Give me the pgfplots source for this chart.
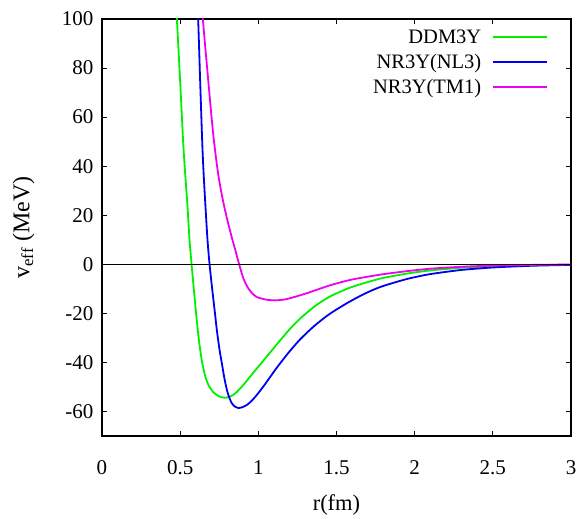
\documentclass[border=0pt]{standalone}
\usepackage{pgfplots}
\pgfplotsset{compat=1.18}
\usepackage{fontspec}
\setmainfont{Liberation Serif}
\definecolor{cgreen}{RGB}{0,240,0}
\definecolor{cblue}{RGB}{0,0,240}
\definecolor{cmag}{RGB}{240,0,240}
\begin{document}
\begin{tikzpicture}
\begin{axis}[
  at={(0pt,0pt)}, anchor=south west,
  scale only axis, width=469pt, height=417pt,
  xmin=0, xmax=3, ymin=-70, ymax=100,
  xtick={0,0.5,...,3}, ytick={-60,-40,...,100},
  xticklabels={0,0.5,1,1.5,2,2.5,3},
  tick align=inside, major tick length=5pt,
  tick style={black, line width=1pt},
  axis line style={line width=1.6pt},
  /pgf/number format/assume math mode=true,
  ticklabel style={font=\fontsize{21}{24}\selectfont},
  xticklabel style={yshift=-21pt},
  yticklabel style={xshift=-5pt},
  xlabel={r(fm)}, ylabel={v$_{\mathrm{eff}}$ (MeV)},
  xlabel style={font=\fontsize{22.5}{26}\selectfont, at={(axis description cs:0.5,0)}, anchor=north, yshift=-55pt},
  ylabel style={font=\fontsize{24}{28}\selectfont, at={(axis description cs:0,0.5)}, anchor=south, yshift=64pt},
  legend style={draw=none, fill=none, at={(0.958,0.985)}, anchor=north east,
    font=\fontsize{20.5}{24}\selectfont, row sep=5.5pt, column sep=9pt},
  legend cell align=right, legend plot pos=right,
  legend image code/.code={\draw[#1] (0pt,0pt) -- (54pt,0pt);},
  clip=true,
]
\addplot[cgreen, line width=1.8pt, smooth, tension=0.4] coordinates {
(0.469,110) (0.479,100) (0.50,74.4) (0.519,50) (0.532,37) (0.547,23.4) (0.560,9.8)
(0.573,0) (0.59,-12) (0.605,-22) (0.62,-31) (0.639,-39.5) (0.66,-45.5) (0.681,-49.2)
(0.71,-52) (0.735,-53.3) (0.76,-54.1) (0.788,-54.4) (0.82,-53.9) (0.853,-52.6)
(0.90,-49.5) (0.96,-44.8) (1.045,-38.3) (1.12,-32.5) (1.2,-26.5) (1.269,-22)
(1.37,-16.7) (1.462,-13.0) (1.6,-9.2) (1.782,-5.8) (1.95,-3.8) (2.1,-2.5)
(2.3,-1.4) (2.5,-0.8) (2.75,-0.35) (3.0,-0.15)
};
\addlegendentry{DDM3Y}
\addplot[cblue, line width=1.8pt, smooth, tension=0.4] coordinates {
(0.606,110) (0.615,100) (0.628,74.4) (0.641,50) (0.650,37) (0.662,23.4) (0.675,9.8)
(0.688,0) (0.703,-9) (0.72,-18.5) (0.735,-27) (0.751,-34.5) (0.767,-40.5)
(0.783,-46.5) (0.799,-51.2) (0.815,-54.5) (0.831,-56.7) (0.85,-58) (0.874,-58.6)
(0.90,-58.2) (0.93,-57.2) (0.96,-55.5) (1.0,-52.5) (1.045,-48.7) (1.12,-42)
(1.2,-35.5) (1.269,-30.5) (1.355,-25.3) (1.45,-20.5) (1.568,-15.8) (1.68,-12)
(1.782,-9.2) (1.95,-6.0) (2.1,-4) (2.3,-2.3) (2.5,-1.3) (2.75,-0.6) (3.0,-0.25)
};
\addlegendentry{NR3Y(NL3)}
\addplot[cmag, line width=1.8pt, smooth, tension=0.4] coordinates {
(0.632,110) (0.645,100) (0.662,87.5) (0.681,74) (0.697,62.5) (0.714,51.5)
(0.73,43) (0.745,36) (0.76,30.5) (0.777,25) (0.80,18.5) (0.83,11) (0.852,6)
(0.872,1.2) (0.89,-2.8) (0.906,-6) (0.93,-9.2) (0.96,-11.8) (0.992,-13.4)
(1.05,-14.4) (1.109,-14.7) (1.18,-14.2) (1.3,-12.0) (1.462,-8.5) (1.6,-6.2)
(1.782,-4.2) (1.95,-2.8) (2.1,-1.8) (2.3,-1.0) (2.5,-0.55) (2.75,-0.25) (3.0,-0.1)
};
\addlegendentry{NR3Y(TM1)}
\addplot[black, line width=1.5pt, forget plot] coordinates {(0,0) (3,0)};
\end{axis}
\path[use as bounding box] (-102pt,-77pt) rectangle (479pt,436pt);
\end{tikzpicture}
\end{document}
